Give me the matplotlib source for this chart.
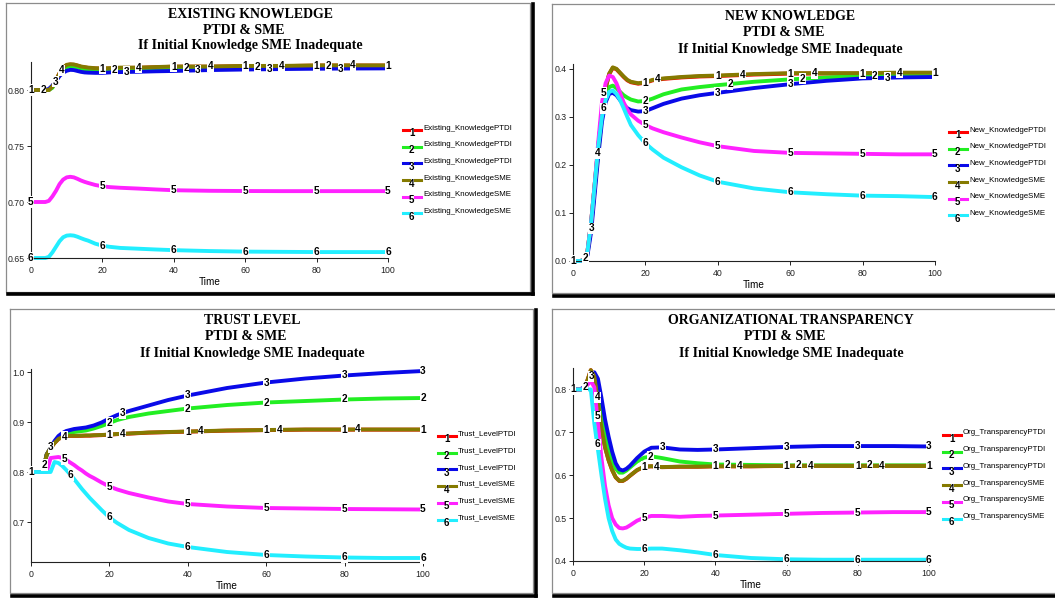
import numpy as np
import matplotlib.pyplot as plt
from matplotlib.lines import Line2D

W, H = 1055, 598

time = [0, 2, 3, 4, 5, 6, 7, 8, 9, 10, 11, 12, 13, 14, 15, 16, 18, 20, 22, 25, 30, 35, 40, 50, 60, 70, 80, 90, 100]

# Existing knowledge
exist_1 = [0.800, 0.800, 0.800, 0.800, 0.800, 0.803, 0.809, 0.815, 0.8198, 0.8222, 0.8227, 0.8225, 0.8217, 0.8207, 0.8202, 0.8197, 0.8192, 0.819, 0.8192, 0.8197, 0.8198, 0.8203, 0.8208, 0.8208, 0.8213, 0.8213, 0.8218, 0.8218, 0.8218]
exist_2 = [0.800, 0.800, 0.800, 0.800, 0.800, 0.802, 0.808, 0.8135, 0.818, 0.8205, 0.8212, 0.821, 0.8202, 0.8192, 0.8185, 0.818, 0.8177, 0.8177, 0.818, 0.8185, 0.819, 0.8195, 0.8198, 0.820, 0.8205, 0.8208, 0.821, 0.821, 0.821]
exist_3 = [0.800, 0.800, 0.800, 0.800, 0.801, 0.804, 0.808, 0.8125, 0.8155, 0.8172, 0.818, 0.8178, 0.817, 0.8162, 0.8157, 0.8155, 0.8153, 0.8153, 0.8157, 0.816, 0.8163, 0.8167, 0.817, 0.8178, 0.8183, 0.8187, 0.819, 0.8192, 0.8193]
exist_4 = [0.800, 0.800, 0.800, 0.800, 0.800, 0.803, 0.809, 0.815, 0.820, 0.8225, 0.823, 0.8228, 0.822, 0.821, 0.8205, 0.820, 0.8195, 0.8193, 0.8195, 0.820, 0.820, 0.8205, 0.821, 0.821, 0.8215, 0.8215, 0.822, 0.822, 0.822]
exist_5 = [0.700, 0.700, 0.700, 0.700, 0.701, 0.705, 0.710, 0.716, 0.720, 0.722, 0.7225, 0.722, 0.7207, 0.7192, 0.718, 0.717, 0.7152, 0.714, 0.7133, 0.7127, 0.712, 0.7112, 0.7105, 0.710, 0.7098, 0.7097, 0.7097, 0.7097, 0.7097]
exist_6 = [0.650, 0.650, 0.650, 0.650, 0.651, 0.655, 0.660, 0.665, 0.6685, 0.670, 0.6703, 0.670, 0.669, 0.6677, 0.6665, 0.6655, 0.6628, 0.661, 0.660, 0.659, 0.6583, 0.6576, 0.657, 0.6562, 0.6557, 0.6555, 0.6553, 0.6553, 0.6553]

# New knowledge
new_1 = [0, 0, 0.002, 0.02, 0.08, 0.16, 0.24, 0.31, 0.359, 0.389, 0.402, 0.399, 0.391, 0.383, 0.376, 0.372, 0.369, 0.371, 0.376, 0.379, 0.382, 0.384, 0.385, 0.388, 0.390, 0.390, 0.390, 0.391, 0.391]
new_2 = [0, 0, 0.001, 0.015, 0.07, 0.15, 0.23, 0.30, 0.345, 0.362, 0.365, 0.36, 0.352, 0.345, 0.34, 0.336, 0.332, 0.333, 0.338, 0.347, 0.357, 0.362, 0.366, 0.373, 0.378, 0.382, 0.385, 0.386, 0.387]
new_3 = [0, 0, 0.001, 0.012, 0.06, 0.14, 0.22, 0.29, 0.33, 0.348, 0.35, 0.345, 0.335, 0.325, 0.318, 0.314, 0.311, 0.312, 0.318, 0.327, 0.338, 0.345, 0.350, 0.360, 0.368, 0.375, 0.380, 0.382, 0.383]
new_4 = [0, 0, 0.002, 0.02, 0.08, 0.16, 0.24, 0.31, 0.36, 0.39, 0.403, 0.40, 0.392, 0.384, 0.377, 0.373, 0.370, 0.372, 0.377, 0.380, 0.383, 0.385, 0.386, 0.389, 0.391, 0.391, 0.391, 0.392, 0.392]
new_5 = [0, 0, 0.002, 0.02, 0.08, 0.16, 0.25, 0.33, 0.37, 0.386, 0.383, 0.37, 0.35, 0.33, 0.315, 0.305, 0.292, 0.283, 0.276, 0.268, 0.257, 0.247, 0.239, 0.229, 0.225, 0.224, 0.223, 0.222, 0.222]
new_6 = [0, 0, 0.002, 0.02, 0.08, 0.16, 0.24, 0.30, 0.335, 0.352, 0.355, 0.348, 0.335, 0.318, 0.300, 0.283, 0.262, 0.245, 0.232, 0.215, 0.195, 0.178, 0.165, 0.151, 0.143, 0.139, 0.136, 0.135, 0.133]

# Trust level
trust_1 = [0.80, 0.80, 0.80, 0.835, 0.848, 0.858, 0.866, 0.870, 0.872, 0.8722, 0.8722, 0.8722, 0.8724, 0.8727, 0.8727, 0.8732, 0.8737, 0.8747, 0.8757, 0.8767, 0.8787, 0.8797, 0.8807, 0.8827, 0.8837, 0.8847, 0.8847, 0.8847, 0.8847]
trust_2 = [0.80, 0.80, 0.80, 0.835, 0.848, 0.860, 0.868, 0.873, 0.876, 0.878, 0.880, 0.881, 0.882, 0.883, 0.885, 0.887, 0.892, 0.898, 0.904, 0.910, 0.917, 0.922, 0.927, 0.934, 0.939, 0.942, 0.945, 0.947, 0.948]
trust_3 = [0.80, 0.80, 0.80, 0.835, 0.848, 0.862, 0.872, 0.878, 0.882, 0.884, 0.886, 0.887, 0.888, 0.889, 0.891, 0.893, 0.899, 0.907, 0.914, 0.922, 0.933, 0.944, 0.953, 0.968, 0.979, 0.987, 0.993, 0.998, 1.002]
trust_4 = [0.80, 0.80, 0.80, 0.835, 0.848, 0.858, 0.866, 0.870, 0.872, 0.8725, 0.8725, 0.8725, 0.8727, 0.873, 0.873, 0.8735, 0.874, 0.875, 0.876, 0.877, 0.879, 0.880, 0.881, 0.883, 0.884, 0.885, 0.885, 0.885, 0.885]
trust_5 = [0.80, 0.80, 0.80, 0.80, 0.828, 0.829, 0.830, 0.828, 0.824, 0.819, 0.814, 0.808, 0.803, 0.797, 0.792, 0.788, 0.779, 0.771, 0.765, 0.758, 0.749, 0.741, 0.736, 0.731, 0.728, 0.727, 0.726, 0.7255, 0.725]
trust_6 = [0.80, 0.80, 0.80, 0.80, 0.80, 0.82, 0.818, 0.812, 0.804, 0.795, 0.786, 0.776, 0.766, 0.757, 0.748, 0.740, 0.724, 0.709, 0.698, 0.684, 0.668, 0.657, 0.650, 0.640, 0.634, 0.631, 0.629, 0.628, 0.628]

# Organizational transparency
org_1 = [0.80, 0.80, 0.80, 0.82, 0.845, 0.83, 0.77, 0.71, 0.665, 0.635, 0.612, 0.595, 0.5867, 0.5867, 0.5917, 0.5987, 0.6117, 0.6197, 0.6207, 0.6187, 0.6197, 0.6197, 0.6207, 0.6207, 0.6217, 0.6217, 0.6217, 0.6217, 0.6217]
org_2 = [0.80, 0.80, 0.80, 0.815, 0.835, 0.835, 0.80, 0.745, 0.695, 0.66, 0.635, 0.615, 0.606, 0.606, 0.611, 0.618, 0.632, 0.641, 0.644, 0.640, 0.632, 0.628, 0.625, 0.624, 0.623, 0.623, 0.623, 0.623, 0.623]
org_3 = [0.80, 0.80, 0.805, 0.815, 0.83, 0.84, 0.825, 0.78, 0.73, 0.69, 0.655, 0.628, 0.614, 0.611, 0.615, 0.622, 0.640, 0.655, 0.664, 0.665, 0.660, 0.659, 0.660, 0.663, 0.666, 0.668, 0.668, 0.668, 0.667]
org_4 = [0.80, 0.80, 0.80, 0.82, 0.845, 0.83, 0.77, 0.71, 0.665, 0.635, 0.612, 0.595, 0.587, 0.587, 0.592, 0.599, 0.612, 0.620, 0.621, 0.619, 0.620, 0.620, 0.621, 0.621, 0.622, 0.622, 0.622, 0.622, 0.622]
org_5 = [0.80, 0.80, 0.80, 0.81, 0.82, 0.805, 0.72, 0.64, 0.575, 0.53, 0.50, 0.485, 0.477, 0.476, 0.478, 0.483, 0.494, 0.501, 0.505, 0.505, 0.503, 0.505, 0.506, 0.508, 0.510, 0.512, 0.513, 0.514, 0.514]
org_6 = [0.80, 0.80, 0.80, 0.80, 0.80, 0.72, 0.66, 0.60, 0.545, 0.50, 0.47, 0.45, 0.44, 0.435, 0.431, 0.429, 0.428, 0.428, 0.429, 0.429, 0.425, 0.42, 0.414, 0.407, 0.404, 0.403, 0.403, 0.403, 0.403]

titles = ["EXISTING KNOWLEDGE", "NEW KNOWLEDGE", "TRUST LEVEL", "ORGANIZATIONAL TRANSPARENCY"]
names = [["Existing_KnowledgePTDI"] * 3 + ["Existing_KnowledgeSME"] * 3,
         ["New_KnowledgePTDI"] * 3 + ["New_KnowledgeSME"] * 3,
         ["Trust_LevelPTDI"] * 3 + ["Trust_LevelSME"] * 3,
         ["Org_TransparencyPTDI"] * 3 + ["Org_TransparencySME"] * 3]
series = [[exist_1, exist_2, exist_3, exist_4, exist_5, exist_6],
          [new_1, new_2, new_3, new_4, new_5, new_6],
          [trust_1, trust_2, trust_3, trust_4, trust_5, trust_6],
          [org_1, org_2, org_3, org_4, org_5, org_6]]
yticks = [[0.65, 0.70, 0.75, 0.80], [0.0, 0.1, 0.2, 0.3, 0.4],
          [0.7, 0.8, 0.9, 1.0], [0.4, 0.5, 0.6, 0.7, 0.8]]
ytick_fmt = ["%.2f", "%.1f", "%.1f", "%.1f"]
xticks = [0, 20, 40, 60, 80, 100]

colors = ["#ff0000", "#22ee22", "#0a0ae8", "#857a00", "#ff22ff", "#22eeff"]

# layout in pixels (left, right, top, bottom) of plot area, y limits
axes_px = [(31, 388, 62, 258), (573, 935, 64, 261), (31, 423, 369, 562), (573, 929, 368, 561)]
ylims = [(0.65, 0.825), (0.0, 0.41), (0.62, 1.006), (0.4, 0.85)]
title_xy = [(250, 14), (790, 17), (252, 321), (791, 321)]
legend_xy = [(403, 130), (949, 132), (438, 436), (943, 435)]
frames = [(6, 3, 530, 292), (552, 4, 1062, 293), (10, 309, 533, 593), (552, 309, 1062, 593)]

fig = plt.figure(figsize=(W / 100, H / 100), dpi=100)
fig.patch.set_facecolor("white")


def fx(x):
    return x / W


def fy(y):
    return 1 - y / H


# panel frames with dark shadow
for (l, t, r, b) in frames:
    fig.add_artist(Line2D([fx(l), fx(r), fx(r), fx(l), fx(l)], [fy(t), fy(t), fy(b), fy(b), fy(t)],
                          color="#8c8c8c", lw=0.9))
    fig.add_artist(Line2D([fx(l + 2), fx(r + 2.5)], [fy(b + 2.5), fy(b + 2.5)], color="black", lw=2.6))
    fig.add_artist(Line2D([fx(r + 2.5), fx(r + 2.5)], [fy(t + 1), fy(b + 2.5)], color="black", lw=2.6))

for p in range(4):
    l, r, t, b = axes_px[p]
    ax = fig.add_axes([fx(l), fy(b), (r - l) / W, (b - t) / H])
    ax.set_xlim(0, 100)
    ax.set_ylim(*ylims[p])
    for s in ["top", "right"]:
        ax.spines[s].set_visible(False)
    for s in ["left", "bottom"]:
        ax.spines[s].set_color("#222222")
        ax.spines[s].set_linewidth(0.8)
    ax.set_xticks(xticks)
    ax.set_yticks(yticks[p])
    ax.set_yticklabels([ytick_fmt[p] % v for v in yticks[p]])
    ax.tick_params(direction="out", length=3, width=0.7, labelsize=6.3, colors="#222222")
    ax.tick_params(axis="x", pad=2.5)
    ax.tick_params(axis="y", pad=1.5)
    for lab in ax.get_xticklabels() + ax.get_yticklabels():
        lab.set_fontfamily("Liberation Sans")
    ax.set_xlabel("Time", fontsize=7.2, family="Liberation Sans", labelpad=2)
    ax.patch.set_alpha(0)

    for k in range(6):
        ax.plot(time, series[p][k], color=colors[k], lw=2.8, solid_capstyle="butt", clip_on=False, zorder=2 + k * 0.1)

    # numbered labels on the curves, shifted along when they would overlap
    placed = []
    for t0 in xticks:
        for k in range(6):
            tt = float(t0)
            while tt <= 100.01:
                yv = np.interp(tt, time, series[p][k])
                px, py = ax.transData.transform((tt, yv))
                if all(abs(px - qx) > 7 or abs(py - qy) > 10 for qx, qy in placed):
                    placed.append((px, py))
                    ax.text(tt, yv, str(k + 1), fontsize=7.3, fontweight="bold", family="Liberation Sans",
                            ha="center", va="center", zorder=5, clip_on=False,
                            bbox=dict(boxstyle="square,pad=0.05", fc="white", ec="none"))
                    break
                tt += 1.7

    # title
    tx, ty = title_xy[p]
    fig.text(fx(tx), fy(ty), titles[p], ha="center", va="center", fontsize=10, fontweight="bold",
             family="Liberation Serif")
    fig.text(fx(tx - 6), fy(ty + 16), "PTDI & SME", ha="center", va="center", fontsize=10,
             fontweight="bold", family="Liberation Serif")
    fig.text(fx(tx), fy(ty + 32), "If Initial Knowledge SME Inadequate", ha="center", va="center",
             fontsize=10, fontweight="bold", family="Liberation Serif")

    # legend
    lx, ly = legend_xy[p]
    for k in range(6):
        y = ly + k * 16.7
        fig.add_artist(Line2D([fx(lx), fx(lx + 5.5)], [fy(y), fy(y)], color=colors[k], lw=2.2))
        fig.add_artist(Line2D([fx(lx + 11.7), fx(lx + 18.3)], [fy(y), fy(y)], color=colors[k], lw=2.2))
        fig.text(fx(lx + 8.7), fy(y + 3.5), str(k + 1), ha="center", va="center", fontsize=7,
                 fontweight="bold", family="Liberation Sans")
        fig.text(fx(lx + 20), fy(y - 2), names[p][k], ha="left", va="center", fontsize=5.7,
                 family="Liberation Sans")

fig.savefig("out.png", dpi=100)
